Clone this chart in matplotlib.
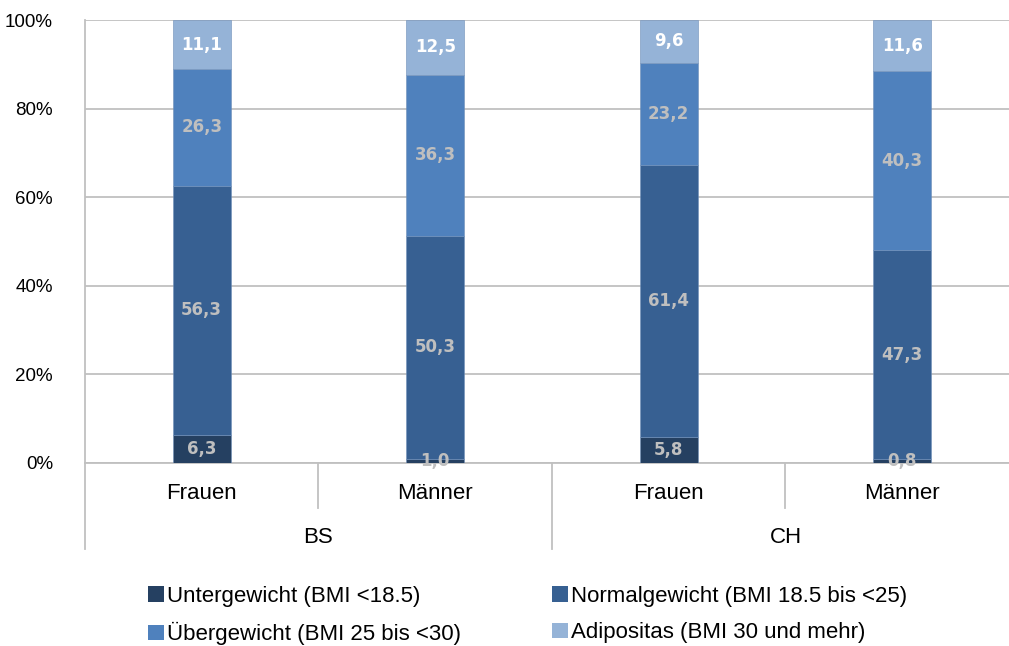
import numpy as np
import matplotlib
matplotlib.use('Agg')
import matplotlib.pyplot as plt
from matplotlib.patches import Patch

groups = ['BS', 'CH']
sexes = ['Frauen', 'Männer', 'Frauen', 'Männer']
series = ['Untergewicht (BMI <18.5)', 'Normalgewicht (BMI 18.5 bis <25)',
          'Übergewicht (BMI 25 bis <30)', 'Adipositas (BMI 30 und mehr)']
unter = [6.3, 1.0, 5.8, 0.8]
normal = [56.3, 50.3, 61.4, 47.3]
ueber = [26.3, 36.3, 23.2, 40.3]
adipos = [11.1, 12.5, 9.6, 11.6]

colors = ['#254061', '#376092', '#4f81bd', '#95b3d7']
label_colors = ['#bfbfbf', '#bfbfbf', '#bfbfbf', '#ffffff']

fig = plt.figure(figsize=(10.09, 6.46), dpi=100)
# axes run past the right edge of the figure, as in the original
ax = fig.add_axes([0.0842, 0.2833, 0.9257, 0.6857])

x = np.arange(len(sexes)) + 0.5
bottom = np.zeros(len(sexes))
for vals, col, lcol in zip([unter, normal, ueber, adipos], colors, label_colors):
    vals = np.array(vals)
    ax.bar(x, vals, 0.248, bottom=bottom, color=col, edgecolor='#6f8fb8', linewidth=0.4, zorder=3)
    for xi, b, v in zip(x, bottom, vals):
        ax.text(xi, b + v / 2, ('%.1f' % v).replace('.', ','), ha='center', va='center',
                color=lcol, fontsize=12, fontweight='bold', family='DejaVu Sans',
                zorder=4, clip_on=False)
    bottom += vals

ax.set_xlim(0, 4)
ax.set_ylim(0, 100)
ax.set_yticks(np.arange(0, 101, 20))
ax.set_yticklabels(['%d%%' % v for v in range(0, 101, 20)], fontsize=13.5, family='Liberation Sans')
ax.yaxis.grid(True, color='#c0c0c0', linewidth=1.3, zorder=0)
ax.tick_params(axis='y', length=0, pad=23)
ax.set_xticks([])
for s in ['top', 'right']:
    ax.spines[s].set_visible(False)
ax.spines['left'].set_color('#c0c0c0')
ax.spines['left'].set_linewidth(1.3)
ax.spines['bottom'].set_color('#c0c0c0')
ax.spines['bottom'].set_linewidth(1.3)

trans = ax.get_xaxis_transform()
ax.plot([0, 0], [0, -0.195], color='#c0c0c0', lw=1.3, transform=trans, clip_on=False)
for xv in [1, 3]:
    ax.plot([xv, xv], [0, -0.102], color='#c0c0c0', lw=1.3, transform=trans, clip_on=False)
ax.plot([2, 2], [0, -0.195], color='#c0c0c0', lw=1.3, transform=trans, clip_on=False)

for xi, s in zip(x, sexes):
    ax.text(xi, -0.068, s, ha='center', va='center', fontsize=16, family='Liberation Sans', transform=trans)
for gi, g in enumerate(groups):
    ax.text(1 + 2 * gi, -0.168, g, ha='center', va='center', fontsize=16, family='Liberation Sans', transform=trans)

# legend fills column-wise: reorder so rows read U, N / Ü, A
order = [0, 2, 1, 3]
handles = [Patch(facecolor=colors[i], edgecolor='none') for i in order]
labels = [series[i] for i in order]
fig.legend(handles, labels, loc='upper left', bbox_to_anchor=(0.138, 0.107), ncol=2,
           frameon=False, prop={'family': 'Liberation Sans', 'size': 16}, handlelength=0.7,
           handleheight=0.7, handletextpad=0.15, columnspacing=4.1, labelspacing=0.7,
           borderaxespad=0)

fig.savefig('out.png', dpi=100)
